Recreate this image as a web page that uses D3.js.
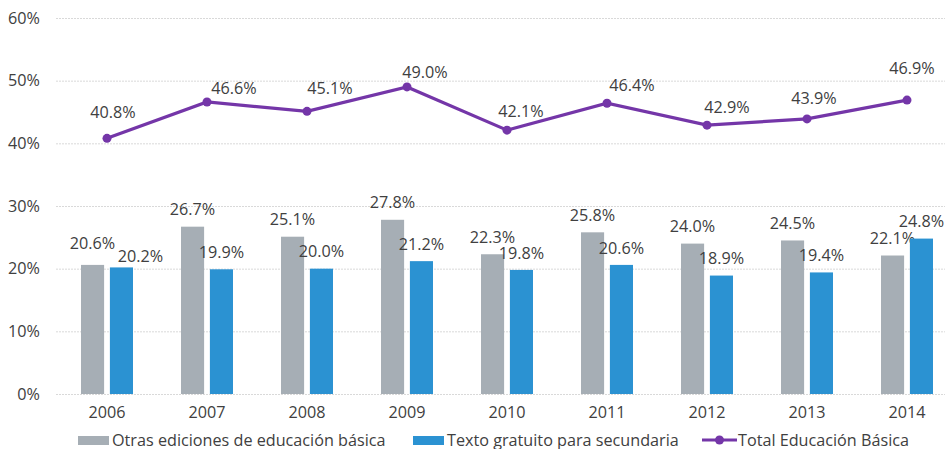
<!DOCTYPE html>
<html lang="es">
<head>
    <meta charset="UTF-8">
    <title>Educación básica</title>
    <script src="https://cdnjs.cloudflare.com/ajax/libs/d3/7.8.5/d3.min.js"></script>
    <style>
        body { margin: 0; background: #fff; }
        .chart text {
            font-family: "Open Sans", "Noto Sans", sans-serif;
            fill: #404040;
        }
        .grid line { stroke: #d9d9d9; stroke-width: 1; stroke-dasharray: 2 1; }
        .grid path { display: none; }
        .axis path, .axis line { display: none; }
    </style>
</head>
<body>
    <svg class="chart"></svg>
    <script>
        const years = ['2006', '2007', '2008', '2009', '2010', '2011', '2012', '2013', '2014'];
        const otras = [20.6, 26.7, 25.1, 27.8, 22.3, 25.8, 24.0, 24.5, 22.1];
        const gratuito = [20.2, 19.9, 20.0, 21.2, 19.8, 20.6, 18.9, 19.4, 24.8];
        const total = [40.8, 46.6, 45.1, 49.0, 42.1, 46.4, 42.9, 43.9, 46.9];
        const yTicks = [0, 10, 20, 30, 40, 50, 60];
        const seriesNames = ['Otras ediciones de educación básica', 'Texto gratuito para secundaria', 'Total Educación Básica'];

        const width = 945, height = 449;
        const fontSize = '16.2px';
        const colors = { otras: '#a6aeb5', gratuito: '#2b92d2', total: '#7436a8' };
        // label placement as in the original (hand-moved labels on the line)
        const lineLabelDx = [6, 27, 23, 18, 14, 25, 20, 7, 5];
        const lineLabelDy = [-26, -14, -23, -15, -19, -18, -18, -21, -32];

        const svg = d3.select('.chart')
            .attr('width', width)
            .attr('height', height);

        //scales
        const x = d3.scaleBand()
            .domain(years)
            .range([57, 957]);
        const bw = x.bandwidth();

        const x1 = d3.scaleBand()
            .domain(['otras', 'gratuito'])
            .range([bw * 0.24, bw * 0.76])
            .paddingInner(0.2);

        const y = d3.scaleLinear()
            .domain([0, 60])
            .range([394, 18]);

        //grid
        svg.append('g')
            .attr('class', 'grid')
            .attr('transform', 'translate(56, 0)')
            .call(d3.axisLeft(y).tickValues(yTicks).tickSize(-900).tickFormat(''));

        //y axis
        svg.append('g')
            .attr('class', 'axis')
            .attr('transform', 'translate(40, 0)')
            .call(d3.axisLeft(y).tickValues(yTicks).tickSize(0).tickPadding(0).tickFormat(d => d + '%'))
            .selectAll('text')
            .style('font-size', fontSize);

        //x axis
        svg.append('g')
            .attr('class', 'axis')
            .attr('transform', 'translate(0, 403)')
            .call(d3.axisBottom(x).tickSize(0).tickPadding(0))
            .selectAll('text')
            .attr('dy', '0.95em')
            .style('font-size', fontSize);

        //bars
        const rows = years.map((yr, i) => ({ year: yr, i: i, otras: otras[i], gratuito: gratuito[i], total: total[i] }));

        const group = svg.selectAll('.year')
            .data(rows)
            .enter().append('g')
            .attr('class', 'year')
            .attr('transform', d => `translate(${x(d.year)}, 0)`);

        ['otras', 'gratuito'].forEach(key => {
            group.append('rect')
                .attr('x', x1(key))
                .attr('y', d => y(d[key]))
                .attr('width', x1.bandwidth())
                .attr('height', d => y(0) - y(d[key]))
                .attr('fill', colors[key]);

            group.append('text')
                .attr('x', d => x1(key) + x1.bandwidth() / 2 + (d.year === '2006' && key === 'gratuito' ? 19 : 0))
                .attr('y', d => y(d[key]) - 17 + (d.year === '2006' ? (key === 'gratuito' ? 6 : -5) : 0))
                .attr('dy', '0.35em')
                .attr('text-anchor', 'middle')
                .style('font-size', fontSize)
                .text(d => d[key].toFixed(1) + '%');
        });

        //line
        const line = d3.line()
            .x(d => x(d.year) + bw / 2)
            .y(d => y(d.total));

        svg.append('path')
            .datum(rows)
            .attr('fill', 'none')
            .attr('stroke', colors.total)
            .attr('stroke-width', 3.2)
            .attr('d', line);

        svg.selectAll('.dot')
            .data(rows)
            .enter().append('circle')
            .attr('cx', d => x(d.year) + bw / 2)
            .attr('cy', d => y(d.total))
            .attr('r', 4.5)
            .attr('fill', colors.total);

        svg.selectAll('.tlabel')
            .data(rows)
            .enter().append('text')
            .attr('x', d => x(d.year) + bw / 2 + lineLabelDx[d.i])
            .attr('y', d => y(d.total) + lineLabelDy[d.i])
            .attr('dy', '0.35em')
            .attr('text-anchor', 'middle')
            .style('font-size', fontSize)
            .text(d => d.total.toFixed(1) + '%');

        //legend
        const legend = svg.append('g').attr('transform', 'translate(0, 440)');
        const items = [
            { x: 78, key: 'otras', name: seriesNames[0] },
            { x: 413, key: 'gratuito', name: seriesNames[1] },
            { x: 702, key: 'total', name: seriesNames[2] }
        ];
        items.forEach(it => {
            if (it.key === 'total') {
                legend.append('line')
                    .attr('x1', it.x).attr('x2', it.x + 35)
                    .attr('y1', 0).attr('y2', 0)
                    .attr('stroke', colors.total).attr('stroke-width', 3.2);
                legend.append('circle')
                    .attr('cx', it.x + 17.5).attr('cy', 0).attr('r', 4.5)
                    .attr('fill', colors.total);
            } else {
                legend.append('rect')
                    .attr('x', it.x).attr('y', -4)
                    .attr('width', 31).attr('height', 9)
                    .attr('fill', colors[it.key]);
            }
            legend.append('text')
                .attr('x', it.x + (it.key === 'total' ? 36 : 34))
                .attr('y', 0)
                .attr('dy', '0.35em')
                .style('font-size', fontSize)
                .text(it.name);
        });
    </script>
</body>
</html>
